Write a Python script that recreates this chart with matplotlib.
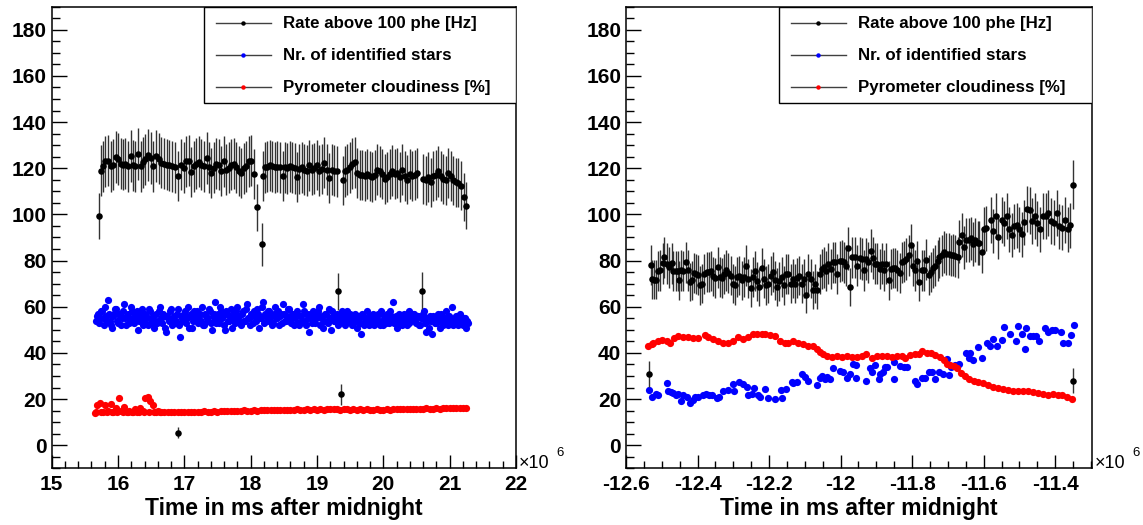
import numpy as np
import matplotlib
matplotlib.use("Agg")
import matplotlib.pyplot as plt
from matplotlib.ticker import MultipleLocator, FixedLocator, FuncFormatter

plt.rcParams['font.family'] = ['Liberation Sans', 'DejaVu Sans']
plt.rcParams['font.weight'] = 'bold'
plt.rcParams['axes.unicode_minus'] = False

# ---------------- left run (time in 1e6 ms after midnight) ----------------
left_rate_t = [
    15.713,
    15.738, 15.773, 15.809, 15.849, 15.889, 15.924, 15.964, 16.000, 16.040, 16.075,
    16.110, 16.150, 16.191, 16.226, 16.261, 16.301, 16.341, 16.376, 16.412, 16.452,
    16.492, 16.532, 16.577, 16.613, 16.653, 16.693, 16.733, 16.773, 16.814, 16.864,
    16.904, 16.954, 16.995, 17.030, 17.065, 17.105, 17.145, 17.181, 17.216, 17.256,
    17.296, 17.336, 17.371, 17.407, 17.447, 17.482, 17.522, 17.557, 17.598, 17.633,
    17.673, 17.708, 17.748, 17.784, 17.819, 17.859, 17.899, 17.934, 17.970, 18.010,
    18.045,
    18.090, 18.166,
    18.180, 18.216, 18.251, 18.291, 18.326, 18.366, 18.402, 18.442, 18.482, 18.517,
    18.552, 18.593, 18.628, 18.668, 18.693, 18.733, 18.768, 18.804, 18.844, 18.879,
    18.919, 18.954, 18.994, 19.035, 19.070, 19.105, 19.145, 19.181, 19.221, 19.256,
    19.296,
    19.321, 19.357,
    19.386, 19.422, 19.457, 19.497, 19.532, 19.572, 19.608, 19.648, 19.683, 19.723,
    19.758, 19.799, 19.834, 19.874, 19.909, 19.949, 19.984, 20.025, 20.060, 20.100,
    20.135, 20.175, 20.211, 20.251, 20.286, 20.326, 20.361, 20.402, 20.437, 20.477,
    20.512,
    20.580,
    20.603, 20.638, 20.678, 20.713, 20.753, 20.788, 20.829, 20.864, 20.904, 20.939,
    20.980, 21.015, 21.055, 21.090, 21.130, 21.165,
    21.221, 21.246, 16.904,
]
left_rate = [
    99.2,
    119.0, 120.9, 123.0, 123.3, 120.9, 121.6, 124.8, 124.0, 121.9, 121.6,
    121.9, 120.9, 125.2, 121.3, 120.9, 126.2, 120.9, 122.6, 123.8, 125.6,
    124.5, 120.9, 125.2, 124.2, 122.3, 121.9, 121.6, 121.3, 120.9, 120.4,
    116.5, 121.6, 120.2, 123.0, 123.3, 118.4, 120.9, 121.9, 122.8, 121.6,
    120.9, 124.5, 120.4, 118.0, 120.2, 121.9, 121.6, 118.7, 123.0, 119.4,
    120.2, 121.6, 121.9, 120.4, 118.7, 118.0, 119.9, 120.9, 123.0, 123.3,
    117.3,
    103.1, 87.1,
    116.8, 120.4, 120.7, 121.2, 120.9, 120.4, 120.7, 120.4, 116.5, 120.4,
    120.0, 120.9, 120.4, 120.0, 116.1, 119.7, 120.4, 119.4, 119.0, 121.2,
    119.4, 120.0, 121.4, 119.0, 119.7, 122.3, 119.4, 115.7, 119.4, 119.0,
    118.6,
    66.6, 22.0,
    114.7, 118.6, 119.4, 120.4, 121.9, 122.6, 118.0, 117.1, 117.1, 116.8,
    117.5, 116.5, 116.1, 117.1, 119.4, 118.6, 117.5, 115.4, 116.1, 117.5,
    119.0, 117.5, 118.0, 116.1, 119.4, 116.8, 115.1, 117.5, 116.5, 117.1,
    118.0,
    67.0,
    115.4, 114.7, 116.1, 113.9, 116.5, 117.1, 118.6, 116.8, 115.4, 114.7,
    118.0, 116.5, 114.7, 113.9, 113.7, 112.5,
    107.4, 103.8, 5.4,
]

left_stars_t = [
    15.67, 15.70, 15.73, 15.76, 15.79, 15.82, 15.85, 15.88, 15.91, 15.94,
    15.97, 16.00, 16.03, 16.06, 16.09, 16.12, 16.15, 16.18, 16.21, 16.24,
    16.27, 16.30, 16.33, 16.36, 16.39, 16.42, 16.45, 16.48, 16.51, 16.54,
    16.57, 16.60, 16.63, 16.66, 16.69, 16.72, 16.75, 16.78, 16.81, 16.84,
    16.87, 16.90, 16.93, 16.96, 16.99, 17.02, 17.05, 17.08, 17.11, 17.14,
    17.17, 17.20, 17.23, 17.26, 17.29, 17.32, 17.35, 17.38, 17.41, 17.44,
    17.47, 17.50, 17.53, 17.56, 17.59, 17.62, 17.65, 17.68, 17.71, 17.74,
    17.77, 17.80, 17.83, 17.86, 17.89, 17.92, 17.95, 17.98, 18.01, 18.04,
    18.07, 18.10, 18.13, 18.16, 18.19, 18.22, 18.25, 18.28, 18.31, 18.34,
    18.37, 18.40, 18.43, 18.46, 18.49, 18.52, 18.55, 18.58, 18.61, 18.64,
    18.67, 18.70, 18.73, 18.76, 18.79, 18.82, 18.85, 18.88, 18.91, 18.94,
    18.97, 19.00, 19.03, 19.06, 19.09, 19.12, 19.15, 19.18, 19.21, 19.24,
    19.27, 19.30, 19.33, 19.36, 19.39, 19.42, 19.45, 19.48, 19.51, 19.54,
    19.57, 19.60, 19.63, 19.66, 19.69, 19.72, 19.75, 19.78, 19.81, 19.84,
    19.87, 19.90, 19.93, 19.96, 19.99, 20.02, 20.05, 20.08, 20.11, 20.14,
    20.17, 20.20, 20.23, 20.26, 20.29, 20.32, 20.35, 20.38, 20.41, 20.44,
    20.47, 20.50, 20.53, 20.56, 20.59, 20.62, 20.65, 20.68, 20.71, 20.74,
    20.77, 20.80, 20.83, 20.86, 20.89, 20.92, 20.95, 20.98, 21.01, 21.04,
    21.07, 21.10, 21.13, 21.16, 21.19, 21.22, 21.25, 21.28,
    15.685, 15.715, 15.745, 15.775, 15.805, 15.835, 15.865, 15.895, 15.925, 15.955,
    15.985, 16.015, 16.045, 16.075, 16.105, 16.135, 16.165, 16.195, 16.225, 16.255,
    16.285, 16.315, 16.345, 16.375, 16.405, 16.435, 16.465, 16.495, 16.525, 16.555,
    16.585, 16.615, 16.645, 16.675, 16.705, 16.735, 16.765, 16.795, 16.825, 16.855,
    16.885, 16.915, 16.945, 16.975, 17.005, 17.035, 17.065, 17.095, 17.125, 17.155,
    17.185, 17.215, 17.245, 17.275, 17.305, 17.335, 17.365, 17.395, 17.425, 17.455,
    17.485, 17.515, 17.545, 17.575, 17.605, 17.635, 17.665, 17.695, 17.725, 17.755,
    17.785, 17.815, 17.845, 17.875, 17.905, 17.935, 17.965, 17.995, 18.025, 18.055,
    18.085, 18.115, 18.145, 18.175, 18.205, 18.235, 18.265, 18.295, 18.325, 18.355,
    18.385, 18.415, 18.445, 18.475, 18.505, 18.535, 18.565, 18.595, 18.625, 18.655,
    18.685, 18.715, 18.745, 18.775, 18.805, 18.835, 18.865, 18.895, 18.925, 18.955,
    18.985, 19.015, 19.045, 19.075, 19.105, 19.135, 19.165, 19.195, 19.225, 19.255,
    19.285, 19.315, 19.345, 19.375, 19.405, 19.435, 19.465, 19.495, 19.525, 19.555,
    19.585, 19.615, 19.645, 19.675, 19.705, 19.735, 19.765, 19.795, 19.825, 19.855,
    19.885, 19.915, 19.945, 19.975, 20.005, 20.035, 20.065, 20.095, 20.125, 20.155,
    20.185, 20.215, 20.245, 20.275, 20.305, 20.335, 20.365, 20.395, 20.425, 20.455,
    20.485, 20.515, 20.545, 20.575, 20.605, 20.635, 20.665, 20.695, 20.725, 20.755,
    20.785, 20.815, 20.845, 20.875, 20.905, 20.935, 20.965, 20.995, 21.025, 21.055,
    21.085, 21.115, 21.145, 21.175, 21.205, 21.235, 21.265,
]
left_stars = [
    54, 57, 55, 58, 52, 56, 63, 54, 51, 57,
    59, 53, 56, 55, 61, 52, 57, 54, 58, 53,
    55, 50, 57, 59, 54, 56, 52, 58, 55, 51,
    57, 54, 60, 53, 56, 49, 55, 58, 52, 56,
    54, 59, 47, 55, 57, 53, 60, 56, 51, 58,
    55, 53, 57, 60, 52, 56, 54, 58, 50, 57,
    62, 55, 53, 58, 56, 50, 57, 54, 59, 55,
    53, 60, 56, 52, 58, 54, 61, 55, 57, 53,
    56, 59, 51, 55, 62, 57, 54, 58, 56, 53,
    60, 55, 52, 57, 61, 54, 56, 59, 53, 57,
    55, 58, 52, 56, 61, 54, 57, 49, 55, 58,
    53, 56, 60, 55, 51, 57, 54, 59, 50, 56,
    54, 57, 53, 56, 55, 52, 58, 54, 56, 53,
    57, 51, 55, 48, 56, 54, 58, 52, 55, 57,
    53, 56, 54, 58, 52, 55, 57, 53, 56, 62,
    54, 51, 57, 55, 53, 56, 52, 58, 54, 55,
    57, 53, 56, 52, 55, 58, 49, 54, 56, 48,
    55, 53, 57, 51, 56, 54, 58, 52, 55, 60,
    54, 56, 52, 57, 53, 55, 51, 53,
    56, 53, 58, 55, 60, 54, 57, 52, 56, 59,
    54, 57, 52, 58, 55, 56, 53, 60, 55, 57,
    58, 54, 56, 52, 57, 55, 59, 53, 56, 54,
    53, 58, 55, 57, 51, 56, 54, 59, 55, 53,
    57, 52, 56, 54, 58, 55, 51, 57, 54, 56,
    58, 56, 54, 52, 57, 55, 59, 53, 56, 54,
    53, 57, 60, 55, 52, 58, 54, 56, 51, 57,
    58, 55, 53, 57, 54, 59, 55, 52, 56, 58,
    54, 57, 55, 60, 53, 56, 58, 54, 52, 57,
    55, 58, 56, 53, 57, 54, 59, 55, 57, 52,
    57, 53, 56, 54, 58, 52, 55, 57, 53, 56,
    55, 58, 52, 56, 54, 57, 53, 55, 58, 54,
    56, 52, 55, 58, 53, 56, 54, 57, 52, 55,
    54, 56, 53, 57, 52, 55, 53, 56, 54, 52,
    55, 57, 52, 54, 56, 53, 55, 58, 54, 53,
    56, 53, 55, 52, 57, 54, 56, 53, 55, 57,
    54, 56, 52, 55, 57, 53, 55, 51, 54, 56,
    53, 56, 54, 57, 52, 55, 53, 56, 54, 52,
    55, 53, 56, 54, 52, 55, 54,
]

left_cloud_t = [
    15.65, 15.69, 15.73, 15.77, 15.81, 15.85, 15.89, 15.93, 15.97, 16.01,
    16.05, 16.09, 16.13, 16.17, 16.21, 16.25, 16.29, 16.33, 16.37, 16.41,
    16.45, 16.49, 16.53, 16.57, 16.61,
    15.67, 15.75, 15.83, 15.91, 15.99, 16.07, 16.15, 16.23, 16.31, 16.39,
    16.47, 16.55, 16.63,
    16.65, 16.70, 16.75, 16.80, 16.85, 16.90, 16.95, 17.00, 17.05, 17.10,
    17.15, 17.20, 17.25, 17.30, 17.35, 17.40, 17.45, 17.50, 17.55, 17.60,
    17.65, 17.70, 17.75, 17.80, 17.85, 17.90, 17.95, 18.00, 18.05, 18.10,
    18.15, 18.20, 18.25, 18.30, 18.35, 18.40, 18.45, 18.50, 18.55, 18.60,
    18.65, 18.70, 18.75, 18.80, 18.85, 18.90, 18.95, 19.00, 19.05, 19.10,
    19.15, 19.20, 19.25, 19.30, 19.35, 19.40, 19.45, 19.50, 19.55, 19.60,
    19.65, 19.70, 19.75, 19.80, 19.85, 19.90, 19.95, 20.00, 20.05, 20.10,
    20.15, 20.20, 20.25, 20.30, 20.35, 20.40, 20.45, 20.50, 20.55, 20.60,
    20.65, 20.70, 20.75, 20.80, 20.85, 20.90, 20.95, 21.00, 21.05, 21.10,
    21.15, 21.20, 21.25,
]
left_cloud = [
    14.0, 17.5, 18.5, 14.5, 17.5, 15.0, 18.0, 14.5, 16.0, 20.5,
    15.0, 16.5, 14.5, 15.0, 14.5, 15.5, 14.5, 16.0, 15.0, 20.5,
    21.0, 19.0, 17.5, 14.5, 15.0,
    14.3, 14.2, 14.4, 14.3, 14.5, 14.3, 14.4, 14.2, 14.4, 14.3,
    14.5, 14.3, 14.4,
    14.4, 14.3, 14.5, 14.3, 14.4, 14.6, 14.4, 14.3, 14.5, 14.4,
    14.6, 14.5, 14.4, 14.7, 14.5, 14.6, 14.8, 14.6, 14.7, 14.9,
    14.7, 14.8, 15.0, 14.8, 14.9, 15.1, 14.9, 15.0, 15.2, 15.0,
    15.1, 15.3, 15.1, 15.2, 15.4, 15.2, 15.3, 15.1, 15.3, 15.4,
    15.2, 15.5, 15.3, 15.4, 15.6, 15.4, 15.5, 15.3, 15.6, 15.4,
    15.5, 15.7, 15.5, 15.6, 15.4, 15.6, 15.5, 15.3, 15.5, 15.4,
    15.6, 15.3, 15.5, 15.4, 15.2, 15.5, 15.3, 15.4, 15.6, 15.4,
    15.5, 15.7, 15.5, 15.6, 15.8, 15.6, 15.7, 15.9, 15.7, 15.8,
    16.0, 15.8, 15.9, 16.1, 15.9, 16.0, 16.2, 16.0, 16.1, 16.3,
    16.1, 16.2, 16.0,
]

# ---------------- right run ----------------
right_rate_t = [
    -12.537, -12.531, -12.526, -12.521, -12.516, -12.510, -12.504, -12.498, -12.493, -12.486,
    -12.481, -12.472, -12.468, -12.461, -12.456, -12.451, -12.446, -12.440, -12.433, -12.428,
    -12.421, -12.416, -12.410, -12.404, -12.399, -12.393, -12.387, -12.381, -12.374, -12.369,
    -12.363, -12.356, -12.350, -12.343, -12.337, -12.331, -12.326, -12.320, -12.314, -12.307,
    -12.300, -12.294, -12.289, -12.283, -12.276, -12.270, -12.264, -12.258, -12.251, -12.246,
    -12.239, -12.233, -12.227, -12.221, -12.214, -12.208, -12.202, -12.195, -12.190, -12.183,
    -12.177, -12.171, -12.165, -12.158, -12.152, -12.146, -12.139, -12.134, -12.127, -12.121,
    -12.115, -12.109, -12.102, -12.096, -12.090, -12.083, -12.078, -12.071, -12.065, -12.059,
    -12.053, -12.046, -12.041, -12.034, -12.027, -12.022, -12.015, -12.009, -12.003, -11.997,
    -11.990, -11.985, -11.978, -11.973, -11.967, -11.960, -11.953, -11.947, -11.941, -11.934,
    -11.929, -11.922, -11.916, -11.910, -11.904, -11.897, -11.891, -11.885, -11.878, -11.873,
    -11.866, -11.860, -11.854, -11.848, -11.841, -11.835, -11.829, -11.822, -11.817, -11.810,
    -11.804, -11.798, -11.792, -11.785, -11.780, -11.773, -11.767, -11.761, -11.754, -11.748,
    -11.742, -11.736, -11.729, -11.724, -11.717, -11.711, -11.705, -11.698, -11.692, -11.686,
    -11.680, -11.673, -11.668, -11.661, -11.655, -11.649, -11.642, -11.636, -11.630, -11.624,
    -11.617, -11.612, -11.605, -11.599, -11.593,
    -11.580, -11.573, -11.566, -11.560, -11.550, -11.542, -11.535, -11.529, -11.522, -11.515,
    -11.507, -11.501, -11.494, -11.486, -11.478, -11.471, -11.464, -11.457, -11.450, -11.443,
    -11.435, -11.427, -11.420, -11.412, -11.404, -11.396, -11.389, -11.382, -11.373, -11.365,
    -11.358, -11.351, -11.349,
]
right_rate = [
    30.9, 78.1, 71.8, 71.7, 71.7, 75.3, 75.7, 78.9, 81.4, 78.6,
    77.1, 78.9, 75.3, 75.3, 75.3, 71.4, 75.7, 75.3, 79.3, 75.7,
    70.7, 71.4, 74.5, 74.3, 73.8, 69.2, 70.0, 74.3, 75.0, 75.0,
    75.3, 73.1, 72.4, 77.1, 72.8, 72.4, 74.3, 75.7, 74.7, 73.5,
    70.0, 69.2, 72.8, 73.5, 71.4, 72.8, 77.8, 72.1, 68.1, 72.8,
    75.3, 71.0, 68.5, 76.7, 72.1, 69.2, 70.0, 73.5, 75.0, 71.4,
    68.5, 71.0, 72.8, 69.2, 74.3, 74.3, 70.0, 72.1, 70.0, 72.4,
    73.5, 70.0, 72.1, 65.2, 74.3, 72.1, 67.1, 70.0, 67.1, 74.3,
    76.4, 77.1, 75.3, 78.6, 76.4, 79.3, 79.3, 74.3, 79.6, 80.0,
    79.3, 77.8, 85.3, 68.5, 81.4, 81.4, 77.8, 81.0, 80.7, 75.7,
    80.7, 79.3, 84.3, 81.0, 78.6, 78.6, 76.4, 78.6, 75.7, 78.6,
    71.4, 76.4, 76.7, 76.7, 75.7, 74.7, 79.3, 79.6, 80.7, 82.2,
    86.7, 77.8, 75.7, 79.6, 70.7, 75.7, 75.7, 80.4, 73.8, 75.0,
    76.7, 77.8, 80.0, 81.4, 82.2, 83.6, 82.9, 82.9, 82.2, 82.4,
    81.9, 81.4, 88.2, 91.1, 85.7, 89.0, 89.0, 89.6, 87.2, 89.0,
    87.6, 87.6, 83.6, 93.6, 93.9,
    97.5, 92.7, 99.3, 90.3, 97.5, 96.1, 99.3, 93.5, 90.9, 94.9,
    95.2, 93.5, 91.3, 96.6, 102.4, 101.8, 97.1, 99.5, 96.1, 93.5,
    99.5, 99.3, 100.7, 97.1, 96.4, 100.7, 94.9, 94.2, 97.5, 93.5,
    95.2, 112.8, 28.0,
]

right_stars_t = [
    -12.535, -12.526, -12.516, -12.510, -12.486, -12.483, -12.475, -12.468, -12.461, -12.454,
    -12.447, -12.440, -12.430, -12.421, -12.414, -12.407, -12.400, -12.384, -12.376, -12.367,
    -12.360, -12.346, -12.339, -12.328, -12.314, -12.300, -12.298, -12.283, -12.272, -12.262,
    -12.258, -12.248, -12.241, -12.230, -12.225, -12.210, -12.202, -12.183, -12.167, -12.165,
    -12.152, -12.137, -12.132, -12.123, -12.109, -12.099, -12.090, -12.065, -12.057, -12.052,
    -12.043, -12.037, -12.031, -12.022, -12.001, -11.994, -11.983, -11.973, -11.966, -11.957,
    -11.957, -11.929, -11.919, -11.911, -11.904, -11.894, -11.890, -11.882, -11.876, -11.871,
    -11.850, -11.850, -11.834, -11.824, -11.813, -11.792, -11.787, -11.773, -11.764, -11.754,
    -11.745, -11.736, -11.724, -11.714, -11.703, -11.698, -11.692, -11.680, -11.668, -11.649,
    -11.642, -11.638, -11.630, -11.617, -11.605, -11.591, -11.582, -11.573, -11.563, -11.549,
    -11.543, -11.526, -11.509, -11.504, -11.493, -11.484, -11.481, -11.470, -11.461, -11.453,
    -11.444, -11.428, -11.419, -11.409, -11.400, -11.384, -11.377, -11.363, -11.356, -11.347,
]
right_stars = [
    24.0, 20.9, 22.3, 21.6, 26.9, 23.6, 23.0, 22.6, 21.9, 22.3,
    19.3, 21.6, 21.1, 18.3, 19.7, 20.7, 20.7, 21.9, 22.1, 21.6,
    21.9, 20.4, 21.1, 23.3, 24.0, 26.6, 23.3, 27.6, 26.6, 25.4,
    21.9, 22.3, 24.7, 21.9, 20.9, 24.4, 20.4, 20.0, 24.0, 20.4,
    24.4, 27.3, 26.9, 27.6, 30.9, 29.5, 28.0, 25.9, 29.0, 29.8,
    28.6, 29.5, 28.6, 33.3, 32.2, 31.6, 29.3, 30.9, 35.2, 34.8,
    29.3, 28.0, 33.3, 31.9, 34.8, 28.6, 30.9, 31.9, 33.8, 33.8,
    35.9, 28.6, 34.5, 33.8, 33.8, 28.0, 26.6, 29.0, 29.3, 31.9,
    31.9, 28.6, 31.9, 30.9, 37.4, 30.5, 34.1, 34.8, 35.1, 40.1,
    37.7, 40.1, 36.9, 42.7, 37.7, 44.1, 43.1, 46.0, 43.0, 45.6,
    51.3, 48.1, 45.3, 51.7, 48.1, 41.5, 51.0, 47.4, 47.4, 47.3,
    45.3, 50.6, 49.1, 49.9, 50.1, 49.1, 44.4, 44.4, 47.7, 52.3,
]

right_cloud_t = [
    -12.539, -12.526, -12.524, -12.510, -12.500, -12.486, -12.477, -12.466, -12.454, -12.440,
    -12.426, -12.412, -12.398, -12.379, -12.370, -12.356, -12.342, -12.328, -12.314, -12.300,
    -12.286, -12.272, -12.258, -12.244, -12.233, -12.221, -12.211, -12.197, -12.183, -12.169,
    -12.155, -12.146, -12.132, -12.118, -12.104, -12.090, -12.076, -12.065, -12.057, -12.050,
    -12.037, -12.025, -12.011, -11.997, -11.983, -11.969, -11.955, -11.941, -11.929, -11.913,
    -11.899, -11.885, -11.871, -11.857, -11.843, -11.829, -11.820, -11.806, -11.792, -11.782,
    -11.773, -11.759, -11.748, -11.736, -11.722, -11.711, -11.703, -11.694, -11.684, -11.675,
    -11.664, -11.652, -11.640, -11.628, -11.615, -11.601, -11.587, -11.574, -11.559, -11.545,
    -11.531, -11.517, -11.503, -11.489, -11.475, -11.461, -11.447, -11.433, -11.419, -11.405,
    -11.391, -11.381, -11.367, -11.353,
]
right_cloud = [
    43.1, 43.7, 44.5, 45.3, 45.5, 45.3, 44.5, 46.6, 47.4, 47.0,
    46.7, 46.6, 46.6, 47.7, 47.0, 46.0, 45.1, 44.1, 44.5, 45.1,
    46.7, 46.0, 47.0, 48.4, 48.1, 48.4, 48.0, 47.7, 47.4, 45.1,
    44.1, 44.1, 45.1, 44.5, 43.7, 43.0, 43.1, 41.5, 40.5, 39.4,
    38.7, 38.4, 38.7, 38.4, 38.8, 38.4, 38.4, 38.7, 39.4, 37.9,
    38.8, 38.7, 38.8, 38.4, 38.7, 38.7, 37.9, 39.1, 39.5, 39.4,
    41.0, 40.1, 40.1, 39.1, 38.4, 36.9, 35.2, 34.8, 34.5, 33.3,
    31.2, 29.8, 28.8, 28.0, 27.6, 26.9, 25.9, 25.4, 24.7, 24.3,
    24.0, 23.6, 23.3, 23.3, 23.3, 23.0, 22.6, 22.1, 21.9, 22.1,
    21.9, 21.6, 20.9, 20.0,
]

legend_labels = ["Rate above 100 phe [Hz]", "Nr. of identified stars",
                 "Pyrometer cloudiness [%]"]
legend_colors = ["black", "blue", "red"]

fig = plt.figure(figsize=(11.43, 5.25), dpi=100)
ax_l = fig.add_axes([0.0452, 0.108, 0.4062, 0.8793])
ax_r = fig.add_axes([0.5477, 0.108, 0.4077, 0.8793])

panels = [
    (ax_l, left_rate_t, left_rate, left_stars_t, left_stars, left_cloud_t, left_cloud,
     (15, 22), [15, 16, 17, 18, 19, 20, 21, 22], 0.2),
    (ax_r, right_rate_t, right_rate, right_stars_t, right_stars, right_cloud_t, right_cloud,
     (-12.6, -11.297), [-12.6, -12.4, -12.2, -12.0, -11.8, -11.6, -11.4], 0.05),
]

ms = 5.2
for ax, rt, rv, st, sv, ct, cv, xlim, xmaj, xmin in panels:
    ax.plot(st, sv, 'o', color='blue', ms=ms, mew=0)
    ax.plot(ct, cv, 'o', color='red', ms=ms, mew=0)
    # Poisson errors on the trigger rate
    ax.errorbar(rt, rv, yerr=np.sqrt(rv), fmt='o', color='black', ms=4.7, mew=0,
                ecolor='0.2', elinewidth=1.0, capsize=0)

    ax.set_xlim(*xlim)
    ax.set_ylim(-10, 190)
    ax.xaxis.set_major_locator(FixedLocator(xmaj))
    ax.xaxis.set_minor_locator(MultipleLocator(xmin))
    ax.yaxis.set_major_locator(MultipleLocator(20))
    ax.yaxis.set_minor_locator(MultipleLocator(5))
    ax.xaxis.set_major_formatter(FuncFormatter(lambda v, p: '%g' % round(v, 3)))
    ax.tick_params(which='both', direction='in', top=False, right=False, width=1.0)
    ax.tick_params(which='major', length=11)
    ax.tick_params(which='minor', length=5.5)
    ax.tick_params(axis='x', which='major', length=9.5, labelsize=15, pad=5)
    ax.tick_params(axis='x', which='minor', length=5)
    ax.tick_params(axis='y', labelsize=15, pad=3.5)
    for lab in ax.get_xticklabels() + ax.get_yticklabels():
        lab.set_fontweight('bold')
    for sp in ax.spines.values():
        sp.set_linewidth(1.1)

    ax.text(0.5, -0.101, "Time in ms after midnight", transform=ax.transAxes,
            ha='center', va='baseline', fontsize=16.5, fontweight='bold')
    ax.text(1.006, 0.0, "\u00d710", transform=ax.transAxes, ha='left', va='baseline',
            fontsize=13, fontweight='normal')
    ax.text(1.086, 0.026, "6", transform=ax.transAxes, ha='left', va='baseline',
            fontsize=9.5, fontweight='normal')

    # legend box drawn by hand, ROOT style
    ax.add_patch(plt.Rectangle((0.329, 0.792), 0.671, 0.208, transform=ax.transAxes,
                               fill=True, facecolor='white', edgecolor='black',
                               lw=1.0, zorder=5))
    for row, (lab, col) in enumerate(zip(legend_labels, legend_colors)):
        yy = 0.964 - row * 0.0695
        ax.plot([0.354, 0.472], [yy, yy], color='0.25', lw=1.0, transform=ax.transAxes,
                zorder=6, clip_on=False)
        ax.plot([0.413], [yy], 'o', color=col, ms=3.2, mew=0, transform=ax.transAxes,
                zorder=7, clip_on=False)
        ax.text(0.498, yy, lab, transform=ax.transAxes, ha='left', va='center',
                fontsize=12.2, fontweight='bold', zorder=7)

fig.savefig("out.png", dpi=100)
